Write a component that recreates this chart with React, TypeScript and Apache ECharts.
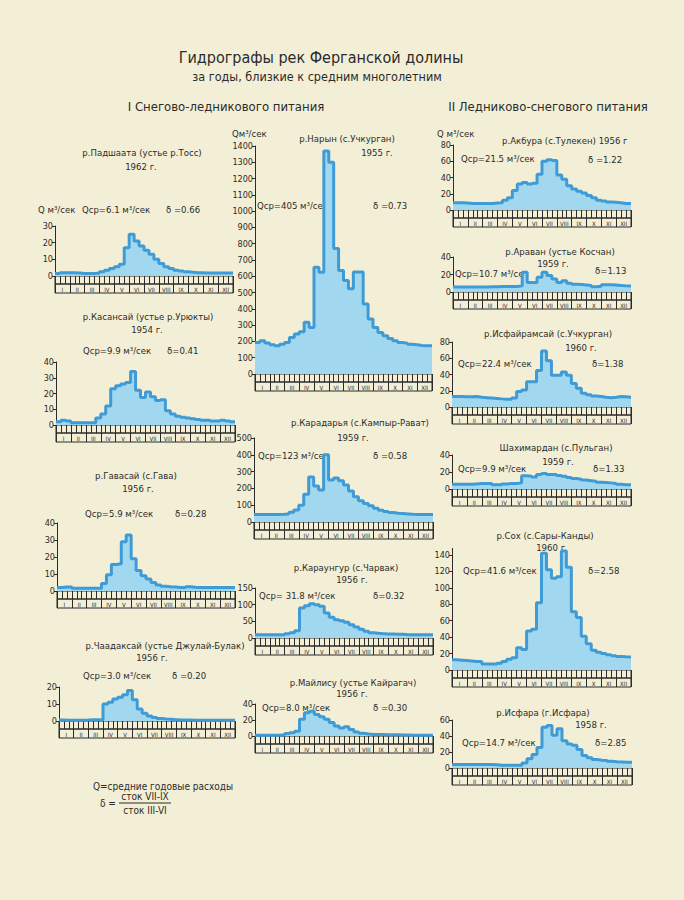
import React, { useEffect, useRef } from "react";
import * as echarts from "echarts";

// ---- data: mean decade discharges (36 decades = 3 per month) ----
const monthLabels = ["I", "II", "III", "IV", "V", "VI", "VII", "VIII", "IX", "X", "XI", "XII"];
const decadeLabels = ["1", "2", "3", "4", "5", "6", "7", "8", "9", "10", "11", "12", "13", "14", "15", "16", "17", "18", "19", "20", "21", "22", "23", "24", "25", "26", "27", "28", "29", "30", "31", "32", "33", "34", "35", "36"];

const padshaataQ = [1.5, 2, 2, 2, 1.8, 1.5, 1.5, 1.5, 1.8, 2.5, 3.5, 4.5, 5.5, 7, 17, 25, 21, 18, 15.5, 13, 10, 7.5, 5.5, 4.5, 3.5, 3, 2.5, 2.2, 2, 2, 1.8, 1.8, 1.8, 1.8, 1.8, 1.8];
const kasansaiQ = [2, 3, 2.5, 1.5, 1.5, 1.5, 1.5, 1.5, 4.5, 7, 12, 23, 25, 26, 27, 34, 22, 17.5, 21, 18, 15.5, 16, 9, 7, 5.5, 5, 4.5, 4, 3.5, 3, 3, 2.5, 2.5, 3, 2.5, 2];
const gavasaiQ = [2, 2.4, 2.4, 1.6, 1.6, 1.6, 1.6, 1.6, 1.6, 4.4, 9.6, 15.6, 16, 29, 33, 19, 12, 9, 7, 5, 3.6, 2.8, 2.5, 2.3, 2, 2, 2.5, 2.2, 2, 2, 2, 2, 2, 2, 2, 2];
const chaadaksaiQ = [0.6, 0.5, 0.5, 0.5, 0.5, 0.6, 0.8, 0.8, 0.6, 10, 11, 13, 14, 15.5, 18, 12.5, 7, 4.5, 3, 2, 1.5, 1.2, 1, 0.8, 0.6, 0.6, 0.6, 0.5, 0.5, 0.5, 0.5, 0.5, 0.5, 0.5, 0.5, 0.5];
const narynQ = [193, 204, 190, 179, 173, 183, 193, 224, 245, 260, 318, 286, 656, 625, 1370, 1300, 770, 636, 574, 523, 626, 626, 430, 337, 286, 255, 235, 218, 204, 193, 189, 183, 179, 175, 173, 173];
const karadaryaQ = [45, 45, 45, 45, 45, 46, 48, 58, 72, 100, 165, 268, 214, 190, 400, 250, 262, 245, 220, 185, 150, 126, 110, 96, 82, 70, 62, 56, 52, 50, 48, 46, 45, 45, 44, 44];
const karaungurQ = [10, 10, 10, 10, 10, 10, 13, 16, 22, 90, 97, 103, 100, 95, 75, 62, 55, 52, 47, 40, 33, 26, 20, 16, 14, 13, 12, 12, 11, 11, 10, 10, 10, 10, 10, 10];
const mailisuQ = [1, 1, 1, 1, 1, 1.5, 3, 4, 6, 21, 29, 31, 27, 24, 21, 17, 12.5, 10, 11.7, 8, 5, 3.3, 2.5, 2, 2, 1.8, 1.5, 1.5, 1.5, 1.2, 1.2, 1, 1, 1, 1, 1];
const akburaQ = [9, 9, 8.5, 8, 8, 8, 8, 8, 8.5, 9, 12, 15, 24, 32, 34, 32, 33, 44, 60, 62, 61, 43, 38, 30, 26, 23, 21, 18, 15, 12, 11, 10, 9.6, 8.8, 8, 8];
const aravanQ = [5.7, 5.7, 5.7, 5.7, 5.7, 5.7, 5.7, 6, 6, 6.4, 6.4, 6.4, 6.4, 7, 22.6, 11, 11, 17, 22.6, 19, 15, 11, 13, 10, 9, 8.5, 8, 7.5, 6, 6.5, 8.3, 8.3, 8, 7.5, 7, 6.8];
const isfairamsaiQ = [13, 12.8, 12.5, 12.5, 12.8, 12, 11.5, 11, 10.5, 10, 9.6, 9.6, 11, 19, 21, 31, 31, 45, 69, 57, 39, 39, 43, 39, 29, 23, 17, 15, 13.6, 12.8, 12, 11.5, 12, 12.8, 12.5, 12];
const shakhimardanQ = [5.5, 5.5, 5.5, 5.5, 6, 6.4, 6.4, 6.4, 5, 5, 6, 6.4, 6.4, 7.2, 15.7, 15, 14, 17, 18.3, 17, 17, 16, 15, 13.6, 12.3, 11.5, 10.6, 9.8, 9, 8, 7.7, 7.2, 6.4, 5.5, 5, 5];
const sokhQ = [12.4, 12, 11.6, 11, 10.3, 10.3, 7.4, 7.4, 7.4, 8.3, 10.3, 13, 15, 27, 25, 47.5, 49.6, 82, 142, 122, 111.6, 113.6, 145, 125, 71, 64, 41, 32, 24, 21.5, 20, 18.6, 17.4, 16.5, 16, 15.7];
const isfaraQ = [4.3, 4.3, 4.3, 4.3, 4.3, 4.3, 4.3, 4.3, 4, 3.4, 3.4, 3.4, 3.4, 3.4, 6.4, 11.5, 17, 25.5, 51, 53, 41, 49, 34, 30, 28.5, 23, 15.7, 12.8, 10.6, 9.8, 9.4, 8.5, 7.7, 7.5, 7.2, 7.2];

// ---- layout ----
type Line = [string, number, number, ("left" | "center")?];
type Panel = { data: number[]; max: number; step: number; axisMax?: number; left: number; right: number; top: number; base: number; lines: Line[] };

const panels: Panel[] = [
  { data: padshaataQ, max: 30, step: 10, left: 55, right: 233, top: 226, base: 276,
    lines: [["р.Падшаата (устье р.Тосс)", 142, 152, "center"], ["1962 г.", 141, 166, "center"], ["Q м³/сек", 38, 209], ["Qср=6.1 м³/сек", 82, 209], ["δ =0.66", 166, 209]] },
  { data: kasansaiQ, max: 40, step: 10, left: 56, right: 235, top: 362, base: 425,
    lines: [["р.Касансай (устье р.Урюкты)", 148, 316, "center"], ["1954 г.", 147, 329, "center"], ["Qср=9.9 м³/сек", 83, 350], ["δ=0.41", 167, 350]] },
  { data: gavasaiQ, max: 40, step: 10, left: 57, right: 235, top: 523, base: 591,
    lines: [["р.Гавасай (с.Гава)", 136, 475, "center"], ["1956 г.", 138, 488, "center"], ["Qср=5.9 м³/сек", 85, 513], ["δ=0.28", 175, 513]] },
  { data: chaadaksaiQ, max: 20, step: 10, left: 59, right: 235, top: 687, base: 721,
    lines: [["р.Чаадаксай (устье Джулай-Булак)", 165, 645, "center"], ["1956 г.", 152, 657, "center"], ["Qср=3.0 м³/сек", 83, 675], ["δ =0.20", 172, 675]] },
  { data: narynQ, max: 1400, step: 100, left: 255, right: 432, top: 146, base: 374,
    lines: [["Qм³/сек", 232, 133], ["р.Нарын (с.Учкурган)", 347, 138, "center"], ["1955 г.", 377, 152, "center"], ["Qср=405 м³/сек", 257, 205], ["δ =0.73", 373, 205]] },
  { data: karadaryaQ, max: 500, step: 100, left: 254, right: 433, top: 438, base: 522,
    lines: [["р.Карадарья (с.Кампыр-Рават)", 360, 422, "center"], ["1959 г.", 353, 437, "center"], ["Qср=123 м³/сек", 258, 455], ["δ =0.58", 373, 455]] },
  { data: karaungurQ, max: 150, step: 50, left: 255, right: 433, top: 588, base: 638,
    lines: [["р.Караунгур (с.Чарвак)", 346, 567, "center"], ["1956 г.", 352, 579, "center"], ["Qср= 31.8 м³/сек", 259, 595], ["δ=0.32", 373, 595]] },
  { data: mailisuQ, max: 40, step: 20, left: 255, right: 433, top: 704, base: 736,
    lines: [["р.Майлису (устье Кайрагач)", 353, 682, "center"], ["1956 г.", 352, 693, "center"], ["Qср=8.0 м³/сек", 262, 707], ["δ =0.30", 373, 707]] },
  { data: akburaQ, max: 80, step: 20, left: 453, right: 631, top: 145, base: 210,
    lines: [["Q м³/сек", 437, 133], ["р.Акбура (с.Тулекен) 1956 г", 502, 140], ["Qср=21.5 м³/сек", 461, 158], ["δ =1.22", 588, 159]] },
  { data: aravanQ, max: 40, step: 20, left: 453, right: 631, top: 257, base: 292,
    lines: [["р.Араван (устье Косчан)", 560, 251, "center"], ["1959 г.", 553, 263, "center"], ["Qср=10.7 м³/сек", 455, 273], ["δ=1.13", 595, 270]] },
  { data: isfairamsaiQ, max: 80, step: 20, left: 452, right: 631, top: 342, base: 407,
    lines: [["р.Исфайрамсай (с.Учкурган)", 548, 333, "center"], ["1960 г.", 581, 347, "center"], ["Qср=22.4 м³/сек", 458, 363], ["δ=1.38", 592, 363]] },
  { data: shakhimardanQ, max: 40, step: 20, left: 452, right: 631, top: 455, base: 489,
    lines: [["Шахимардан (с.Пульган)", 556, 447, "center"], ["1959 г.", 558, 461, "center"], ["Qср=9.9 м³/сек", 458, 468], ["δ=1.33", 593, 468]] },
  { data: sokhQ, max: 140, step: 20, axisMax: 148, left: 452, right: 631, top: 555, base: 670,
    lines: [["р.Сох (с.Сары-Канды)", 545, 535, "center"], ["1960 г.", 552, 547, "center"], ["Qср=41.6 м³/сек", 463, 570], ["δ=2.58", 588, 570]] },
  { data: isfaraQ, max: 60, step: 20, left: 452, right: 632, top: 720, base: 768,
    lines: [["р.Исфара (г.Исфара)", 543, 712, "center"], ["1958 г.", 591, 724, "center"], ["Qср=14.7 м³/сек", 462, 742], ["δ=2.85", 595, 742]] },
];

const FONT = "'DejaVu Sans Condensed', 'Liberation Sans Narrow', 'DejaVu Sans', sans-serif";
const INK = "#2b2b2b";
const PAPER = "#f3efd6";

function txt(text: string, x: number, y: number, align: string = "left", size = 9.5) {
  return {
    type: "text",
    x,
    y,
    silent: true,
    style: { text, x: 0, y: 0, fill: INK, fontSize: size, fontFamily: FONT, textAlign: align, align, textVerticalAlign: "middle", verticalAlign: "middle" },
  };
}

function buildOption() {
  const grid: any[] = [];
  const xAxis: any[] = [];
  const yAxis: any[] = [];
  const series: any[] = [];
  const graphic: any[] = [];
  const stripBorder = { show: true, borderColor: INK, borderWidth: 1, backgroundColor: "rgba(0,0,0,0)" };

  panels.forEach((p) => {
    const w = p.right - p.left;
    const gi = grid.length;
    const axisMax = p.axisMax || p.max;
    const gridTop = p.base - ((p.base - p.top) * axisMax) / p.max;
    grid.push({ left: p.left, top: gridTop, width: w, height: p.base - gridTop });
    grid.push({ left: p.left, top: p.base, width: w, height: 8, ...stripBorder });
    grid.push({ left: p.left, top: p.base + 8, width: w, height: 9, ...stripBorder });

    xAxis.push({ gridIndex: gi, type: "value", min: 0, max: 36, show: false });
    yAxis.push({
      gridIndex: gi, type: "value", min: 0, max: axisMax, interval: p.step,
      axisLine: { show: true, lineStyle: { color: INK, width: 1 } },
      axisTick: { show: true, length: 3, lineStyle: { color: INK } },
      axisLabel: {
        fontSize: 9, color: INK, margin: 2, fontFamily: FONT, showMaxLabel: axisMax === p.max,
        formatter: (v: number) => (v > p.max ? "" : String(v)),
      },
      splitLine: { show: false },
    });

    xAxis.push({
      gridIndex: gi + 1, type: "category", data: decadeLabels, boundaryGap: true,
      axisLine: { show: false }, axisTick: { show: false }, axisLabel: { show: false },
      splitLine: { show: true, interval: 0, lineStyle: { color: INK, width: 1 } },
    });
    yAxis.push({ gridIndex: gi + 1, type: "value", show: false, splitLine: { show: false } });

    xAxis.push({
      gridIndex: gi + 2, type: "category", data: monthLabels, boundaryGap: true,
      axisLine: { show: false }, axisTick: { show: false },
      axisLabel: { inside: true, interval: 0, fontSize: 6, margin: 1, color: INK, fontFamily: FONT },
      splitLine: { show: true, interval: 0, lineStyle: { color: INK, width: 1 } },
    });
    yAxis.push({ gridIndex: gi + 2, type: "value", show: false, splitLine: { show: false } });

    const pts = p.data.map((v, i) => [i, v]);
    pts.push([p.data.length, p.data[p.data.length - 1]]);
    series.push({
      type: "line", xAxisIndex: gi, yAxisIndex: gi, step: "end", symbol: "none", silent: true,
      data: pts,
      lineStyle: { color: "#3f9bd6", width: 3 },
      areaStyle: { color: "#a2d8ef", opacity: 1 },
    });

    p.lines.forEach((l) => graphic.push(txt(l[0], l[1], l[2], l[3] || "left")));
  });

  // headings
  graphic.push(txt("Гидрографы рек Ферганской долины", 321, 57, "center", 16));
  graphic.push(txt("за годы, близкие к средним многолетним", 317, 76, "center", 12.5));
  graphic.push(txt("I Снегово-ледникового питания", 226, 106, "center", 13));
  graphic.push(txt("II Ледниково-снегового питания", 548, 106, "center", 13));

  // legend formula
  graphic.push(txt("Q=средние годовые расходы", 163, 786, "center", 10));
  graphic.push(txt("δ =", 100, 803, "left", 10));
  graphic.push(txt("сток VII-IX", 145, 796, "center", 10));
  graphic.push({ type: "line", silent: true, shape: { x1: 119, y1: 803, x2: 171, y2: 803 }, style: { stroke: INK, lineWidth: 1 } });
  graphic.push(txt("сток III-VI", 145, 810, "center", 10));

  return {
    animation: false,
    backgroundColor: PAPER,
    grid, xAxis, yAxis, series, graphic,
  };
}

export default function App() {
  const ref = useRef<HTMLDivElement>(null);
  useEffect(() => {
    document.body.style.margin = "0";
    document.body.style.background = PAPER;
    const chart = echarts.init(ref.current as HTMLDivElement, undefined, { renderer: "svg" });
    chart.setOption(buildOption() as any);
    return () => chart.dispose();
  }, []);
  return <div ref={ref} style={{ width: 684, height: 900, background: PAPER }} />;
}
